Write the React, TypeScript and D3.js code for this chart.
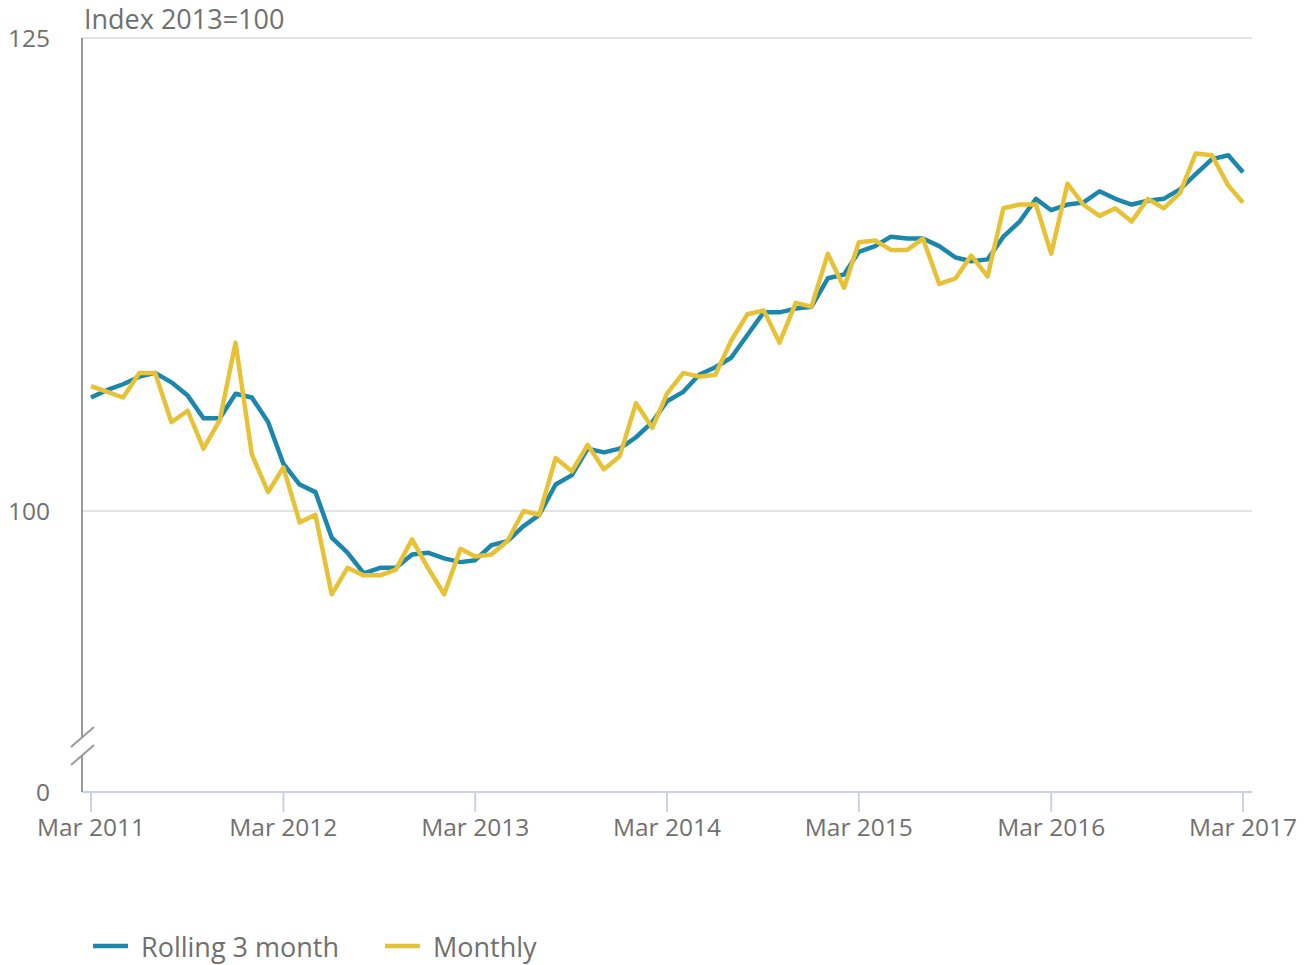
// Index 2013=100 line chart: rolling 3 month vs monthly
import React, { useEffect, useRef } from 'react';
import * as d3 from 'd3';

const startMonth = new Date(2011, 2, 1); // Mar 2011

const rolling3Month: number[] = [
  106.0, 106.4, 106.7, 107.1, 107.3, 106.8, 106.1, 104.9, 104.9, 106.2, 106.0, 104.7,
  102.5, 101.4, 101.0, 98.6, 97.8, 96.7, 97.0, 97.0, 97.7, 97.8, 97.5, 97.3,
  97.4, 98.2, 98.4, 99.2, 99.8, 101.4, 101.9, 103.3, 103.1, 103.3, 103.9, 104.7,
  105.8, 106.3, 107.2, 107.6, 108.1, 109.3, 110.5, 110.5, 110.7, 110.8, 112.3, 112.5,
  113.7, 114.0, 114.5, 114.4, 114.4, 114.0, 113.4, 113.2, 113.3, 114.5, 115.3, 116.5,
  115.9, 116.2, 116.3, 116.9, 116.5, 116.2, 116.4, 116.5, 117.0, 117.8, 118.6, 118.8,
  117.9,
];

const monthly: number[] = [
  106.6, 106.3, 106.0, 107.3, 107.3, 104.7, 105.3, 103.3, 104.8, 108.9, 103.0, 101.0,
  102.3, 99.4, 99.8, 95.6, 97.0, 96.6, 96.6, 96.9, 98.5, 97.0, 95.6, 98.0,
  97.6, 97.7, 98.4, 100.0, 99.8, 102.8, 102.1, 103.5, 102.2, 102.9, 105.7, 104.4,
  106.2, 107.3, 107.1, 107.2, 109.0, 110.4, 110.6, 108.9, 111.0, 110.8, 113.6, 111.8,
  114.2, 114.3, 113.8, 113.8, 114.4, 112.0, 112.3, 113.5, 112.4, 116.0, 116.2, 116.2,
  113.6, 117.3, 116.2, 115.6, 116.0, 115.3, 116.5, 116.0, 116.8, 118.9, 118.8, 117.2,
  116.3,
];

const yTickValues = [125, 100];
const yBreakLabel = '0';
const xTickYears = [2011, 2012, 2013, 2014, 2015, 2016, 2017];
const seriesNames = ['Rolling 3 month', 'Monthly'];
const seriesColors = ['#1b87ab', '#e8c236'];

const App: React.FC = () => {
  const plotRef = useRef<SVGSVGElement>(null);

  useEffect(() => {
    if (!plotRef.current) return;
    document.body.style.margin = '0';

    const svg = d3.select(plotRef.current);
    svg.selectAll('*').remove();

    const width = 1311;
    const height = 965;
    const font = '"Open Sans", "Noto Sans", sans-serif';
    const textColor = '#707070';

    svg.attr('width', width).attr('height', height).style('font-family', font);

    const left = 82;
    const right = 1252;
    const top = 38;
    const bottom = 792;

    const dates = rolling3Month.map((_, i) => d3.timeMonth.offset(startMonth, i));

    const xScale = d3.scaleTime()
      .domain([startMonth, d3.timeMonth.offset(startMonth, 72)])
      .range([91, 1243]);

    // broken axis: bottom of the plot is shown as 0
    const yScale = d3.scaleLinear()
      .domain([85.15, 125])
      .range([bottom, top]);

    // Gridlines
    svg.append('g')
      .selectAll('line')
      .data(yTickValues)
      .join('line')
      .attr('x1', left)
      .attr('x2', right)
      .attr('y1', d => yScale(d))
      .attr('y2', d => yScale(d))
      .attr('stroke', '#e3e3e3')
      .attr('stroke-width', 2);

    // Y tick labels
    svg.append('g')
      .selectAll('text')
      .data(yTickValues)
      .join('text')
      .attr('x', 50)
      .attr('y', d => yScale(d))
      .attr('dy', '0.35em')
      .attr('text-anchor', 'end')
      .attr('fill', textColor)
      .style('font-size', '24.5px')
      .text(d => String(d));

    svg.append('text')
      .attr('x', 50)
      .attr('y', bottom)
      .attr('dy', '0.35em')
      .attr('text-anchor', 'end')
      .attr('fill', textColor)
      .style('font-size', '24.5px')
      .text(yBreakLabel);

    // Title
    svg.append('text')
      .attr('x', 84)
      .attr('y', 29)
      .attr('fill', textColor)
      .style('font-size', '27px')
      .text('Index 2013=100');

    // X axis
    const xAxisG = svg.append('g');
    xAxisG.append('line')
      .attr('x1', left)
      .attr('x2', right)
      .attr('y1', bottom)
      .attr('y2', bottom)
      .attr('stroke', '#c9d2e8')
      .attr('stroke-width', 2);

    const tickDates = xTickYears.map(y => new Date(y, 2, 1));
    xAxisG.selectAll('line.tick')
      .data(tickDates)
      .join('line')
      .attr('class', 'tick')
      .attr('x1', d => xScale(d))
      .attr('x2', d => xScale(d))
      .attr('y1', bottom)
      .attr('y2', bottom + 20)
      .attr('stroke', '#c9d2e8')
      .attr('stroke-width', 2);

    xAxisG.selectAll('text')
      .data(tickDates)
      .join('text')
      .attr('x', d => xScale(d))
      .attr('y', 836)
      .attr('text-anchor', 'middle')
      .attr('fill', textColor)
      .style('font-size', '24.5px')
      .text(d => d3.timeFormat('%b %Y')(d));

    // Y axis with break
    const axisColor = '#9a9a9a';
    const yAxisG = svg.append('g')
      .attr('stroke', axisColor)
      .attr('stroke-width', 2);
    yAxisG.append('line').attr('x1', left).attr('x2', left).attr('y1', top).attr('y2', 737);
    yAxisG.append('line').attr('x1', left).attr('x2', left).attr('y1', 755).attr('y2', bottom);
    yAxisG.append('line').attr('x1', 71).attr('y1', 747).attr('x2', 94).attr('y2', 727);
    yAxisG.append('line').attr('x1', 71).attr('y1', 765).attr('x2', 94).attr('y2', 745);

    // Lines
    const line = d3.line<number>()
      .x((_, i) => xScale(dates[i]))
      .y(d => yScale(d));

    [rolling3Month, monthly].forEach((series, k) => {
      svg.append('path')
        .datum(series)
        .attr('fill', 'none')
        .attr('stroke', seriesColors[k])
        .attr('stroke-width', 4.5)
        .attr('stroke-linejoin', 'round')
        .attr('d', line);
    });

    // Legend
    const legendX = [93, 385];
    seriesNames.forEach((name, k) => {
      const lg = svg.append('g').attr('transform', `translate(${legendX[k]},946)`);
      lg.append('line')
        .attr('x1', 0)
        .attr('x2', 35)
        .attr('stroke', seriesColors[k])
        .attr('stroke-width', 4.5);
      lg.append('text')
        .attr('x', 48)
        .attr('y', 11)
        .attr('fill', textColor)
        .style('font-size', '27px')
        .text(name);
    });
  }, []);

  return (
    <div>
      <svg ref={plotRef}></svg>
    </div>
  );
};

export default App;
